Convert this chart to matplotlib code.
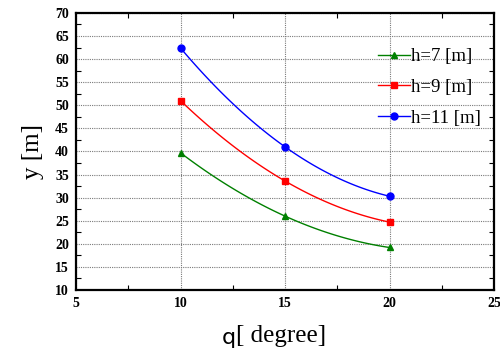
import numpy as np
import matplotlib
matplotlib.use("Agg")
import matplotlib.pyplot as plt
from matplotlib.ticker import MultipleLocator

q = [10, 15, 20]
y_h7 = [39.7, 26.0, 19.2]
y_h9 = [51.0, 33.6, 24.7]
y_h11 = [62.4, 41.0, 30.3]
labels = ["h=7 [m]", "h=9 [m]", "h=11 [m]"]
colors = ["#008000", "#ff0000", "#0000ff"]
markers = ["^", "s", "o"]

fig = plt.figure(figsize=(5, 3.58), dpi=100)
ax = fig.add_axes([0.152, 0.19, 0.836, 0.774])

for ys, lab, c, m in zip([y_h7, y_h9, y_h11], labels, colors, markers):
    coef = np.polyfit(q, ys, 2)
    xs = np.linspace(q[0], q[-1], 100)
    ax.plot(xs, np.polyval(coef, xs), color=c, lw=1.0)
    ax.plot(q, ys, linestyle="none", marker=m, color=c, markersize=5)
    ax.plot([], [], color=c, lw=1.0, marker=m, markersize=5, label=lab)

ax.set_xlim(5, 25)
ax.set_ylim(10, 70)
ax.xaxis.set_major_locator(MultipleLocator(5))
ax.xaxis.set_minor_locator(MultipleLocator(2.5))
ax.yaxis.set_major_locator(MultipleLocator(5))
ax.yaxis.set_minor_locator(MultipleLocator(2.5))
ax.grid(True, which="major", color="#7a7a7a", linestyle=(0, (1, 1)), lw=0.8)
ax.tick_params(which="both", direction="in", top=True, right=True)
ax.tick_params(which="major", length=0, pad=5)
ax.tick_params(which="minor", length=3.5, width=0.8)
for s in ax.spines.values():
    s.set_linewidth(1.6)
for t in ax.get_xticklabels() + ax.get_yticklabels():
    t.set_fontfamily("Liberation Serif")
    t.set_fontweight("bold")
    t.set_fontsize(10)

ax.set_ylabel("y [m]", fontfamily="Liberation Serif", fontsize=18, labelpad=8)
fig.text(0.444, 0.055, "q", fontfamily="DejaVu Sans", fontsize=16, ha="left", va="center")
fig.text(0.473, 0.062, "[ degree]", fontfamily="Liberation Serif", fontsize=18, ha="left", va="center")

leg = ax.legend(loc="upper right", bbox_to_anchor=(1.0, 0.92), frameon=False,
                prop={"family": "Liberation Serif", "size": 13.5}, handlelength=1.7,
                handletextpad=0.05, labelspacing=0.72, borderaxespad=0.3)

fig.savefig("out.png", dpi=100)
